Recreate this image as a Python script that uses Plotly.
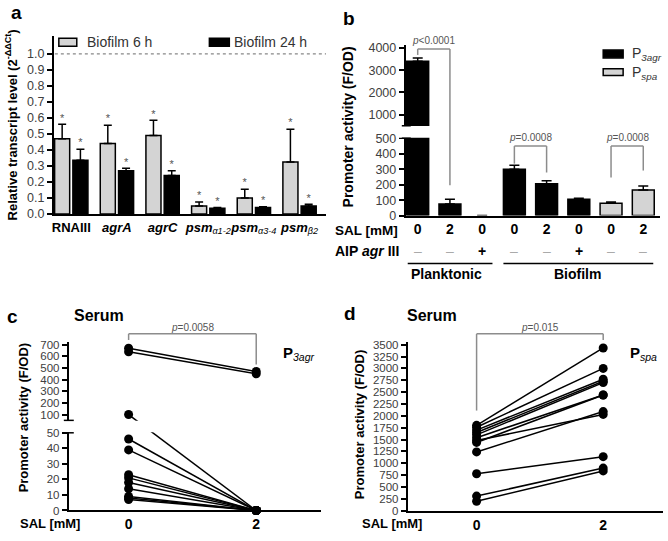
import plotly.graph_objects as go

W, H = 668, 541
FONT = "Liberation Sans, Arial, sans-serif"

# ---------------- data ----------------
# panel a
a_genes = ["RNAIII", "agrA", "agrC", "psm a1-2", "psm a3-4", "psm b2"]
a_ticktext = ["<b>RNAIII</b>", "<b><i>agrA</i></b>", "<b><i>agrC</i></b>",
              "<b><i>psm</i></b><sub><i>α1-2</i></sub>",
              "<b><i>psm</i></b><sub><i>α3-4</i></sub>",
              "<b><i>psm</i></b><sub><i>β2</i></sub>"]
a_bio6 = [0.47, 0.44, 0.49, 0.05, 0.10, 0.325]
a_bio6_err = [0.09, 0.115, 0.095, 0.025, 0.055, 0.205]
a_bio24 = [0.335, 0.27, 0.24, 0.035, 0.04, 0.05]
a_bio24_err = [0.07, 0.015, 0.03, 0.005, 0.005, 0.01]
a_yticks = [0.0, 0.1, 0.2, 0.3, 0.4, 0.5, 0.6, 0.7, 0.8, 0.9, 1.0]

# panel b
b_sal = ["0", "2", "0", "0", "2", "0", "0", "2"]
b_aip = ["–", "–", "+", "–", "–", "+", "–", "–"]
b_p3agr = [3400, 75, 0, 300, 205, 105, None, None]
b_p3agr_err = [150, 30, None, 25, 20, 7, None, None]
b_pspa = [None, None, None, None, None, None, 80, 165]
b_pspa_err = [None, None, None, None, None, None, 8, 27]
b_yticks_low = [0, 100, 200, 300, 400, 500]
b_yticks_high = [1000, 2000, 3000, 4000]

# panel c
c_sal = [0, 2]
c_p3agr_sal0 = [670, 640, 100, 46, 39, 23, 21, 18, 14, 9, 8, 7]
c_p3agr_sal2 = [470, 450, 0, 0, 0, 0, 0, 0, 0, 0, 0, 0]
c_yticks_low = [0, 10, 20, 30, 40, 50]
c_yticks_high = [100, 200, 300, 400, 500, 600, 700]

# panel d
d_sal = [0, 2]
d_pspa_sal0 = [1800, 1760, 1700, 1650, 1600, 1540, 1480, 1440, 1240, 780, 310, 200]
d_pspa_sal2 = [3430, 3000, 2770, 2730, 2700, 2440, 2030, 2440, 2090, 1140, 900, 840]
d_yticks = list(range(0, 3501, 250))

# ---------------- broken-axis transforms ----------------
def b_disp(v):
    if v is None:
        return None
    return v if v <= 500 else 500 + 80.4 + (v - 500) * 0.1435

def c_disp(v):
    return v if v <= 50 else 50 + 8.0 + (v - 50) * 0.0749

# ---------------- geometry helpers ----------------
def PX(x):
    return x / W

def PY(y):
    return 1 - y / H

AX = {
    "a": dict(x0=52, x1=325, xr=(-0.382, 5.58), y0=214.3, y1=33, yr=(0, 1.11)),
    "b": dict(x0=405, x1=660, xr=(-0.37, 7.52), y0=216, y1=42, yr=(0, 1101)),
    "c": dict(x0=67, x1=320, xr=(-0.9375, 3.016), y0=517, y1=345, yr=(0, 108.45)),
    "d": dict(x0=407, x1=663, xr=(-1.087, 2.945), y0=517.3, y1=345, yr=(0, 3556)),
}

def xpx(p, v):
    g = AX[p]
    return g["x0"] + (v - g["xr"][0]) / (g["xr"][1] - g["xr"][0]) * (g["x1"] - g["x0"])

fig = go.Figure()

# ---------------- panel a traces ----------------
xa = list(range(len(a_genes)))
fig.add_trace(go.Bar(x=xa, y=a_bio6, offset=-0.365, width=0.33,
                     marker=dict(color="#d4d4d4", line=dict(color="black", width=1.5)),
                     error_y=dict(type="data", array=a_bio6_err, arrayminus=[0]*6, symmetric=False,
                                  color="black", thickness=1.5, width=4),
                     xaxis="x", yaxis="y", name="Biofilm 6 h"))
fig.add_trace(go.Bar(x=xa, y=a_bio24, offset=0.035, width=0.33,
                     marker=dict(color="black", line=dict(color="black", width=1.5)),
                     error_y=dict(type="data", array=a_bio24_err, arrayminus=[0]*6, symmetric=False,
                                  color="black", thickness=1.5, width=4),
                     xaxis="x", yaxis="y", name="Biofilm 24 h"))
fig.add_trace(go.Scatter(x=[i - 0.2 for i in xa], y=[v + e for v, e in zip(a_bio6, a_bio6_err)],
                         mode="text", text=["*"] * 6, textposition="top center",
                         textfont=dict(family=FONT, size=11, color="#555"),
                         cliponaxis=False, xaxis="x", yaxis="y"))
fig.add_trace(go.Scatter(x=[i + 0.2 for i in xa], y=[v + e for v, e in zip(a_bio24, a_bio24_err)],
                         mode="text", text=["*"] * 6, textposition="top center",
                         textfont=dict(family=FONT, size=11, color="#555"),
                         cliponaxis=False, xaxis="x", yaxis="y"))

# ---------------- panel b traces ----------------
xb = list(range(len(b_sal)))
def b_err(vals, errs):
    out = []
    for v, e in zip(vals, errs):
        if v is None or e is None:
            out.append(None)
        else:
            out.append(b_disp(v + e) - b_disp(v))
    return out

b_line_w = [0 if (v is None or v == 0) else 1.5 for v in b_p3agr]
fig.add_trace(go.Bar(x=xb, y=[b_disp(v) for v in b_p3agr], width=0.68,
                     marker=dict(color="black", line=dict(color="black", width=b_line_w)),
                     error_y=dict(type="data", array=b_err(b_p3agr, b_p3agr_err),
                                  arrayminus=[0]*8, symmetric=False,
                                  color="black", thickness=1.5, width=5),
                     xaxis="x2", yaxis="y2", name="P3agr"))
fig.add_trace(go.Bar(x=xb, y=[b_disp(v) for v in b_pspa], width=0.68,
                     marker=dict(color="#d4d4d4", line=dict(color="black", width=1.5)),
                     error_y=dict(type="data", array=b_err(b_pspa, b_pspa_err),
                                  arrayminus=[0]*8, symmetric=False,
                                  color="black", thickness=1.5, width=5),
                     xaxis="x2", yaxis="y2", name="Pspa"))

# ---------------- panel c traces ----------------
for v0, v2 in zip(c_p3agr_sal0, c_p3agr_sal2):
    fig.add_trace(go.Scatter(x=c_sal, y=[c_disp(v0), c_disp(v2)], mode="lines+markers",
                             line=dict(color="black", width=1.5),
                             marker=dict(color="black", size=9),
                             cliponaxis=False, xaxis="x3", yaxis="y3"))

# ---------------- panel d traces ----------------
for v0, v2 in zip(d_pspa_sal0, d_pspa_sal2):
    fig.add_trace(go.Scatter(x=d_sal, y=[v0, v2], mode="lines+markers",
                             line=dict(color="black", width=1.5),
                             marker=dict(color="black", size=9),
                             cliponaxis=False, xaxis="x4", yaxis="y4"))

# ---------------- axes ----------------
tickfont = dict(family=FONT, size=12.5, color="#404040")
def yax(p, **kw):
    g = AX[p]
    d = dict(domain=[PY(g["y0"]), PY(g["y1"])], range=list(g["yr"]), showline=True,
             linecolor="black", linewidth=2, showgrid=False, zeroline=False,
             ticks="outside", ticklen=5, tickwidth=1.5, tickcolor="black",
             tickfont=tickfont, fixedrange=True)
    d.update(kw)
    return d

def xax(p, **kw):
    g = AX[p]
    d = dict(domain=[PX(g["x0"]), PX(g["x1"])], range=list(g["xr"]), showline=True,
             linecolor="black", linewidth=2, showgrid=False, zeroline=False, tickangle=0,
             ticks="", tickfont=dict(family=FONT, size=14, color="black"), fixedrange=True)
    d.update(kw)
    return d

small_tf = dict(family=FONT, size=11.5, color="#404040")
fig.update_layout(
    xaxis=xax("a", anchor="y", tickvals=xa, ticktext=a_ticktext,
              tickfont=dict(family=FONT, size=13, color="black")),
    yaxis=yax("a", anchor="x", tickvals=a_yticks, ticktext=[f"{t:.1f}" for t in a_yticks]),
    xaxis2=xax("b", anchor="y2", tickvals=xb, ticktext=[f"<b>{s}</b>" for s in b_sal]),
    yaxis2=yax("b", anchor="x2",
               tickvals=[b_disp(t) for t in b_yticks_low + b_yticks_high],
               ticktext=[str(t) for t in b_yticks_low + b_yticks_high]),
    xaxis3=xax("c", anchor="y3", tickvals=c_sal, ticktext=[f"<b>{s}</b>" for s in c_sal]),
    yaxis3=yax("c", anchor="x3",
               tickvals=[c_disp(t) for t in c_yticks_low + c_yticks_high],
               ticktext=[str(t) for t in c_yticks_low + c_yticks_high], tickfont=small_tf),
    xaxis4=xax("d", anchor="y4", tickvals=d_sal, ticktext=[f"<b>{s}</b>" for s in d_sal]),
    yaxis4=yax("d", anchor="x4", tickvals=d_yticks, ticktext=[str(t) for t in d_yticks],
               tickfont=small_tf),
)

shapes = []
annos = []

def line(x0, y0, x1, y1, color="black", width=1.5, dash=None):
    shapes.append(dict(type="line", xref="paper", yref="paper",
                       x0=PX(x0), y0=PY(y0), x1=PX(x1), y1=PY(y1), layer="above",
                       line=dict(color=color, width=width, dash=dash)))

def rect(x0, y0, x1, y1, fill, lw=0, lc="black"):
    shapes.append(dict(type="rect", xref="paper", yref="paper",
                       x0=PX(x0), y0=PY(y0), x1=PX(x1), y1=PY(y1), layer="above",
                       fillcolor=fill, line=dict(color=lc, width=lw)))

def text(x, y, t, size=14, color="black", xanchor="center", angle=0):
    annos.append(dict(xref="paper", yref="paper", x=PX(x), y=PY(y), text=t,
                      showarrow=False, xanchor=xanchor, yanchor="middle", textangle=angle,
                      font=dict(family=FONT, size=size, color=color)))

# panel labels
text(15, 9, "<b>a</b>", size=19)
text(348, 15, "<b>b</b>", size=19)
text(11, 319, "<b>c</b>", size=19)
text(349, 316, "<b>d</b>", size=19)

# ---- panel a decorations ----
line(53, 51, 325, 51, color="#888", width=1.2, dash="dot")
rect(57, 35, 75, 43, "#d4d4d4", lw=1.5)
text(83, 39, "Biofilm 6 h", size=14, color="#333", xanchor="left")
rect(208, 35, 228, 43, "black", lw=1.5)
text(231, 39, "Biofilm 24 h", size=14, color="#333", xanchor="left")
text(10, 123, "<b>Relative transcript level (2<sup>-ΔΔCt</sup>)</b>", size=13, angle=-90)

# ---- panel b decorations ----
rect(398, 124.5, 440, 136.5, "white")
line(401, 124.3, 410, 124.3, width=1.5)
line(401, 137, 410, 137, width=1.5)
text(348, 125, "<b>Promoter activity (F/OD)</b>", size=14, angle=-90)
rect(603, 47, 623, 55, "black", lw=1.5)
rect(603, 66, 623, 73, "#d4d4d4", lw=1.5)
text(630, 51, "P<sub><i>3agr</i></sub>", size=14, color="#333", xanchor="left")
text(630, 70, "P<sub><i>spa</i></sub>", size=14, color="#333", xanchor="left")

def bracket(xl, xr, ytop, yl, yr, label, ty):
    line(xl, ytop, xr, ytop, color="#8c8c8c")
    line(xl, ytop, xl, yl, color="#8c8c8c")
    line(xr, ytop, xr, yr, color="#8c8c8c")
    text((xl + xr) / 2, ty, label, size=10, color="#555")

bracket(xpx("b", 0), xpx("b", 1), 46, 52, 185, "<i>p</i><0.0001", 37)
bracket(xpx("b", 3), xpx("b", 4), 145, 163, 172, "<i>p</i>=0.0008", 136)
bracket(xpx("b", 6), xpx("b", 7), 145, 177, 170, "<i>p</i>=0.0008", 136)
# rows under the axis
text(366, 231, "<b>SAL [mM]</b>", size=13.5)
text(366, 252, "<b>AIP <i>agr</i> III</b>", size=14)
for i, s in enumerate(b_aip):
    if s == "+":
        text(xpx("b", i), 252, "<b>+</b>", size=14)
    else:
        text(xpx("b", i), 252, "–", size=14, color="#aaa")
line(xpx("b", -0.31), 265, xpx("b", 2.32), 265, width=1.5)
line(xpx("b", 2.66), 265, xpx("b", 7.31), 265, width=1.5)
text(446, 276, "<b>Planktonic</b>", size=14)
text(577, 276, "<b>Biofilm</b>", size=14)

# ---- panel c decorations ----
rect(62.5, 425.3, 165, 437.2, "white")
line(62, 425, 72, 425, width=1.5)
line(62, 437.7, 72, 437.7, width=1.5)
text(97, 318, "<b>Serum</b>", size=16)
text(21, 422, "<b>Promoter activity (F/OD)</b>", size=13, angle=-90)
text(48, 530, "<b>SAL [mM]</b>", size=13)
text(280, 357, "<b>P</b><sub><i>3agr</i></sub>", size=15, xanchor="left")
bracket(xpx("c", 0), xpx("c", 2), 336.7, 343, 368, "<i>p</i>=0.0058", 330)

# ---- panel d decorations ----
text(431, 318, "<b>Serum</b>", size=16)
text(358, 429, "<b>Promoter activity (F/OD)</b>", size=13, angle=-90)
text(391, 530, "<b>SAL [mM]</b>", size=13)
text(628, 357, "<b>P</b><sub><i>spa</i></sub>", size=15, xanchor="left")
bracket(xpx("d", 0), xpx("d", 2), 336.7, 415, 343, "<i>p</i>=0.015", 330)

fig.update_layout(
    width=W, height=H, margin=dict(l=0, r=0, t=0, b=0),
    paper_bgcolor="white", plot_bgcolor="white",
    barmode="overlay", showlegend=False,
    font=dict(family=FONT, color="black"),
    shapes=shapes, annotations=annos,
)

fig.write_html("out.html", config={"displayModeBar": False},
               post_script="document.body.style.margin='0px';")
